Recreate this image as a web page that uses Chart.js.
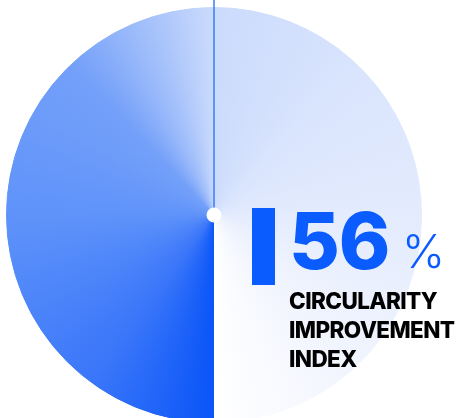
<!DOCTYPE html>
<html>
<head>
<meta charset="utf-8">
<script src="https://cdn.jsdelivr.net/npm/chart.js@4"></script>
<style>
  html, body { margin: 0; padding: 0; background: #fff; overflow: hidden; }
  #wrap { position: relative; width: 456px; height: 430px; }
  #pie { position: absolute; left: 0; top: 0; }
  .bar { position: absolute; left: 252px; top: 208px; width: 23px; height: 77px; background: #0a5cff; }
  .big { position: absolute; left: 289px; top: 202px; font: 800 78px Inter, sans-serif; color: #0a5cff; letter-spacing: -1px; line-height: 1; }
  .pct { position: absolute; left: 402px; top: 228px; font: 300 46px Inter, sans-serif; color: #0a5cff; line-height: 1; }
  .label { position: absolute; left: 289px; top: 286px; font: 800 22.5px Inter, sans-serif; color: #000; line-height: 29px; letter-spacing: -0.6px; }
</style>
</head>
<body>
<div id="wrap">
  <canvas id="pie" width="456" height="430"></canvas>
  <div class="bar"></div>
  <div class="big" id="big"></div>
  <div class="pct">%</div>
  <div class="label" id="label"></div>
</div>
<script>
document.addEventListener("DOMContentLoaded", () => {
  const categories = ["Circularity improvement", "Remaining"];
  const values = [56, 44];
  const labelLines = ["CIRCULARITY", "IMPROVEMENT", "INDEX"];

  document.getElementById("big").textContent = values[0];
  document.getElementById("label").innerHTML = labelLines.join("<br>");

  // conic gradient, starts at 6 o'clock and runs clockwise
  function conic(ctx) {
    const chart = ctx.chart;
    const a = chart.chartArea;
    if (!a) return "#5f93fa";
    const cx = (a.left + a.right) / 2;
    const cy = (a.top + a.bottom) / 2;
    const g = chart.ctx.createConicGradient(Math.PI / 2, cx, cy);
    g.addColorStop(0, "#0a55f8");
    g.addColorStop(0.1, "#3a76f9");
    g.addColorStop(0.25, "#5f93fa");
    g.addColorStop(0.38, "#74a0f9");
    g.addColorStop(0.5, "#cbdbfc");
    g.addColorStop(0.62, "#d9e4fd");
    g.addColorStop(0.75, "#e3ebfd");
    g.addColorStop(0.9, "#f3f6fe");
    g.addColorStop(1, "#ffffff");
    return g;
  }

  const axisMark = {
    id: "axisMark",
    afterDraw(chart) {
      const meta = chart.getDatasetMeta(0).data[0];
      const c = chart.ctx;
      c.save();
      c.strokeStyle = "#3d7bf6";
      c.lineWidth = 1.5;
      c.beginPath();
      c.moveTo(meta.x, 0);
      c.lineTo(meta.x, meta.y);
      c.stroke();
      c.fillStyle = "#fff";
      c.beginPath();
      c.arc(meta.x, meta.y, 7.5, 0, Math.PI * 2);
      c.fill();
      c.restore();
    },
  };

  new Chart(document.getElementById("pie"), {
    type: "pie",
    data: {
      labels: categories,
      datasets: [
        {
          data: values,
          backgroundColor: conic,
          borderColor: conic,
          borderWidth: 1,
        },
      ],
    },
    options: {
      responsive: false,
      animation: false,
      rotation: 180,
      layout: { padding: { left: 6, right: 34, top: 7, bottom: 7 } },
      plugins: { legend: { display: false }, tooltip: { enabled: false } },
    },
    plugins: [axisMark],
  });
});
</script>
</body>
</html>
